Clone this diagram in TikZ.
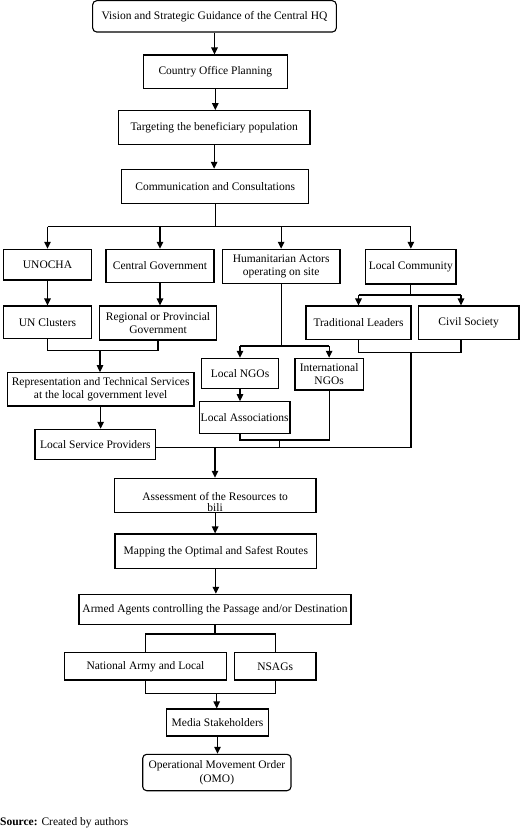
\documentclass[tikz,border=0pt]{standalone}
\usepackage{fontspec}
\setmainfont{Liberation Serif}
\usetikzlibrary{arrows.meta}
\newcommand\mkbox[7][]{%
  \pgfmathsetmacro\bxw{#5-#3}\pgfmathsetmacro\bxh{#6-#4}%
  \pgfmathsetmacro\bxx{(#3+#5)/2}\pgfmathsetmacro\bxy{(#4+#6)/2}%
  \node[boxst,#1,minimum width=\bxw bp,minimum height=\bxh bp] (#2) at (\bxx,\bxy) {#7};}
\begin{document}
\begin{tikzpicture}[x=1bp,y=-1bp,
  boxst/.style={draw,line width=1.1bp,inner sep=0pt,align=center,
    font=\fontsize{11.5bp}{13.5bp}\selectfont},
  rnd/.style={rounded corners=4bp},
  ln/.style={line width=1.1bp},
  arr/.style={line width=1.1bp,-{Triangle[length=7bp,width=6.5bp]}}]
\useasboundingbox (0,0) rectangle (520,832);
\mkbox[rnd]{vis}{92.7}{0.7}{336.3}{32}{Vision and Strategic Guidance of the Central HQ}
\mkbox{cop}{143.3}{55}{287.3}{88.7}{Country Office Planning}
\mkbox{tgt}{118.3}{110.7}{310}{144.3}{Targeting the beneficiary population}
\mkbox{com}{121.7}{169.3}{308.7}{203.3}{Communication and Consultations}
\mkbox{uno}{3.3}{249.3}{91.7}{280}{UNOCHA}
\mkbox{cgov}{106}{249.3}{214}{282.7}{Central Government}
\mkbox{hum}{222.3}{249.3}{340}{283.3}{Humanitarian Actors\\operating on site}
\mkbox{lcom}{365.7}{249.3}{456}{284}{Local Community}
\mkbox{unc}{3.3}{306}{91.7}{338.3}{UN Clusters}
\mkbox{reg}{99.3}{306}{216.7}{340}{Regional or Provincial\\Government}
\mkbox{trad}{306}{306}{411}{339.3}{Traditional Leaders}
\mkbox{civ}{418.3}{306}{519}{339.3}{Civil Society}
\mkbox{lngo}{201.7}{358.3}{278.3}{388.3}{Local NGOs}
\mkbox{ingo}{295}{358.3}{363.3}{390}{International\\NGOs}
\mkbox{rep}{7.3}{372.7}{194}{406}{Representation and Technical Services\\at the local government level}
\mkbox{lass}{199.3}{401.7}{290}{433.3}{Local Associations}
\mkbox{lsp}{35}{429.3}{155.7}{459.3}{Local Service Providers}
\mkbox{ass}{114.3}{478.3}{316}{512.3}{\raisebox{0pt}[\height][0pt]{\begin{tabular}[t]{@{}c@{}}Assessment of the Resources to\\[-2.5bp]bili\end{tabular}}}
\mkbox{map}{115}{534}{316.7}{568.7}{Mapping the Optimal and Safest Routes}
\mkbox{arm}{79}{594.3}{351}{624.3}{Armed Agents controlling the Passage and/or Destination}
\mkbox{nat}{64.3}{652.7}{226.7}{680}{National Army and Local}
\mkbox{nsag}{234.3}{652.7}{316}{680}{NSAGs}
\mkbox{med}{166.7}{709}{268.3}{736}{Media Stakeholders}
\mkbox[rnd]{omo}{142.7}{754.3}{291}{790.7}{Operational Movement Order\\(OMO)}
\node[anchor=west,inner sep=0pt,font=\fontsize{11.5bp}{13.5bp}\selectfont] (src) at (0,823) {\textbf{Source:} Created by authors};
% junction coordinates
\coordinate (bus1) at (215,226.7);
\coordinate (j1) at (100,350.7);
\coordinate (j2) at (411.7,295);
\coordinate (civx) at (461,295);
\coordinate (j3) at (411,352.7);
\coordinate (j4) at (279.3,346);
\coordinate (j6) at (279.3,440);
\coordinate (bus2) at (215,447.7);
\coordinate (j5) at (215,634);
\coordinate (j7) at (216.7,693.3);
% top chain
\draw[arr] (vis.south) -- (vis.south |- cop.north);
\draw[arr] (cop.south) -- (cop.south |- tgt.north);
\draw[arr] (tgt.south) -- (tgt.south |- com.north);
\draw[ln] (com.south) -- (com.south |- bus1);
\draw[ln] (bus1 -| uno) -- (bus1 -| lcom);
\draw[arr] (bus1 -| uno) -- (uno.north);
\draw[arr] (bus1 -| cgov) -- (cgov.north);
\draw[arr] (bus1 -| hum) -- (hum.north);
\draw[arr] (bus1 -| lcom) -- (lcom.north);
% left branch
\draw[arr] (uno.south) -- (uno.south |- unc.north);
\draw[arr] (cgov.south) -- (cgov.south |- reg.north);
\draw[ln] (unc.south) |- (j1) -| (reg.south);
\draw[arr] (j1) -- (j1 |- rep.north);
\draw[arr] (rep.south) -- (rep.south |- lsp.north);
% local community branch
\draw[ln] (lcom.south) -- (lcom.south |- j2);
\draw[ln] (j2 -| trad) -- (civx);
\draw[arr] (j2 -| trad) -- (trad.north);
\draw[arr] (civx) -- (civx |- civ.north);
\draw[ln] (trad.south) |- (j3) -| (civx |- civ.south);
% humanitarian branch
\draw[ln] (hum.south) -- (hum.south |- j4);
\draw[ln] (j4 -| lngo) -- (j4 -| ingo);
\draw[arr] (j4 -| lngo) -- (lngo.north);
\draw[arr] (j4 -| ingo) -- (ingo.north);
\draw[arr] (lngo.south) -- (lngo.south |- lass.north);
\draw[ln] (lass.south -| lngo) |- (j6) -| (ingo.south);
\draw[ln] (j6) -- (j6 |- bus2);
% merge
\draw[ln] (lsp.east |- bus2) -- (j3 |- bus2) -- (j3);
\draw[arr] (bus2) -- (bus2 |- ass.north);
\draw[arr] (ass.south) -- (ass.south |- map.north);
\draw[arr] (map.south) -- (map.south |- arm.north);
\draw[ln] (arm.south) -- (arm.south |- j5);
\draw[ln] (nat.north) |- (j5) -| (nsag.north);
\draw[ln] (nat.south) |- (j7) -| (nsag.south);
\draw[arr] (j7) -- (j7 |- med.north);
\draw[arr] (med.south) -- (med.south |- omo.north);
\end{tikzpicture}
\end{document}
